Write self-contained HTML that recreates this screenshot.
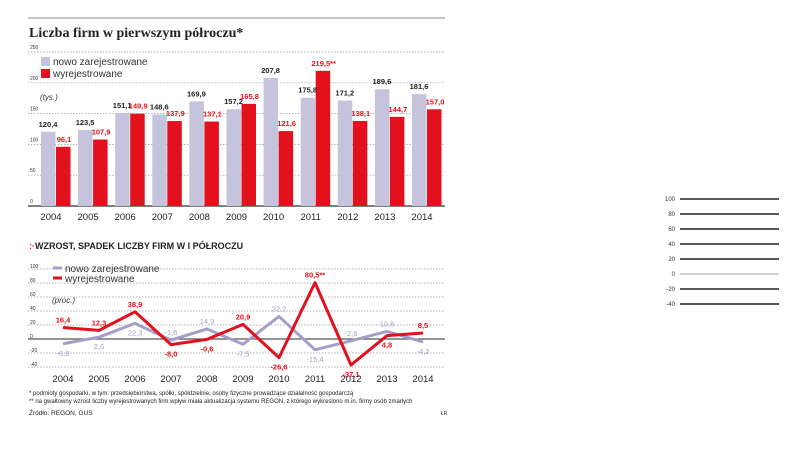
<!DOCTYPE html>
<html><head><meta charset="utf-8"><style>
body{margin:0;background:#fff;width:805px;height:455px;overflow:hidden;font-family:"Liberation Sans",sans-serif}
svg{position:absolute;left:0;top:0}
</style></head><body>
<svg id="c" width="805" height="455">
<line x1="28" y1="18" x2="445" y2="18" stroke="#888" stroke-width="1"/>
<text x="29" y="37" font-family="Liberation Serif" font-weight="bold" font-size="14" fill="#222">Liczba firm w pierwszym półroczu*</text>
<g id="topg"></g>
<rect x="41" y="57" width="9" height="9" fill="#c6c3dc"/>
<text x="53" y="65" font-size="10" fill="#333">nowo zarejestrowane</text>
<rect x="41" y="69" width="9" height="9" fill="#e3111d"/>
<text x="53" y="77" font-size="10" fill="#333">wyrejestrowane</text>
<text x="40" y="100" font-size="8" font-style="italic" fill="#333">(tys.)</text>
<text x="29" y="249" font-size="9" font-weight="bold" fill="#222"><tspan fill="#e3111d">:·</tspan>WZROST, SPADEK LICZBY FIRM W I PÓŁROCZU</text>
<g id="botg"></g>
<line x1="53" y1="268" x2="62" y2="268" stroke="#a49ec8" stroke-width="3"/>
<text x="65" y="272" font-size="10" fill="#333">nowo zarejestrowane</text>
<line x1="53" y1="278" x2="62" y2="278" stroke="#e3111d" stroke-width="3"/>
<text x="65" y="282" font-size="10" fill="#333">wyrejestrowane</text>
<text x="52" y="303" font-size="8" font-style="italic" fill="#333">(proc.)</text>
<text x="29" y="395" font-size="6" fill="#222">* podmioty gospodarki, w tym: przedsiębiorstwa, spółki, spółdzielnie, osoby fizyczne prowadzące działalność gospodarczą</text>
<text x="29" y="403" font-size="6" fill="#222">** na gwałtowny wzrost liczby wyrejestrowanych firm wpływ miała aktualizacja systemu REGON, z którego wykreślono m.in. firmy osób zmarłych</text>
<text x="29" y="415" font-size="6.5" fill="#222">Źródło: REGON, GUS</text>
<text x="441" y="415" font-size="5" fill="#222">ŁR</text>
<g id="minig"></g>
</svg>
<script>
const years=["2004","2005","2006","2007","2008","2009","2010","2011","2012","2013","2014"];
const newFirms=[120.4,123.5,151.1,148.6,169.9,157.2,207.8,175.8,171.2,189.6,181.6];
const removedFirms=[96.1,107.9,149.9,137.9,137.1,165.8,121.6,219.5,138.1,144.7,157.0];
const newLabels=["120,4","123,5","151,1","148,6","169,9","157,2","207,8","175,8","171,2","189,6","181,6"];
const removedLabels=["96,1","107,9","149,9","137,9","137,1","165,8","121,6","219,5**","138,1","144,7","157,0"];
const topTicks=[0,50,100,150,200,250];
const newChange=[-6.8,2.6,22.3,-1.6,14.3,-7.5,32.2,-15.4,-2.6,10.8,-4.2];
const removedChange=[16.4,12.3,38.9,-8.0,-0.6,20.9,-26.6,80.5,-37.1,4.8,8.5];
const newChangeLabels=["-6,8","2,6","22,3","-1,6","14,3","-7,5","32,2","-15,4","-2,6","10,8","-4,2"];
const removedChangeLabels=["16,4","12,3","38,9","-8,0","-0,6","20,9","-26,6","80,5**","-37,1","4,8","8,5"];
const botTicks=[100,80,60,40,20,0,-20,-40];
const miniTicks=[100,80,60,40,20,0,-20,-40];

const NS="http://www.w3.org/2000/svg";
function mk(p,t,a,txt){const e=document.createElementNS(NS,t);for(const k in a)e.setAttribute(k,a[k]);if(txt!==undefined)e.textContent=txt;p.appendChild(e);return e;}
const gTop=document.getElementById('topg'),gBot=document.getElementById('botg'),gMini=document.getElementById('minig');
const yT=v=>206-v*0.616;
const xT=i=>48+i*37.1;
topTicks.forEach(t=>{
 const l=mk(gTop,'line',{x1:28,x2:445,y1:yT(t),y2:yT(t),stroke:t===0?'#555':'#999','stroke-width':t===0?1.5:0.7,'stroke-dasharray':t===0?'':'1.5,1.5'});
 
 
 const tx=mk(gTop,'text',{x:30,y:yT(t)-3,'font-size':5,fill:'#333'},t);
 
 
});
years.forEach((y,i)=>{
 const x=xT(i);
 const b1=mk(gTop,'rect',{x:x-7,y:yT(newFirms[i]),width:14.5,height:206-yT(newFirms[i]),fill:'#c6c3dc'});
 
 
 const b2=mk(gTop,'rect',{x:x+8,y:yT(removedFirms[i]),width:14.5,height:206-yT(removedFirms[i]),fill:'#e3111d'});
 
 
 const t1=mk(gTop,'text',{x:x,y:yT(newFirms[i])-5,'font-size':7.5,'font-weight':'bold',fill:'#222','text-anchor':'middle'},newLabels[i]);
 
 
 const t2=mk(gTop,'text',{x:x+16,y:yT(removedFirms[i])-5,'font-size':7.5,'font-weight':'bold',fill:'#e3111d','text-anchor':'middle'},removedLabels[i]);
 
 
 const yl=mk(gTop,'text',{x:x+3,y:220,'font-size':9.5,fill:'#222','text-anchor':'middle'},y);
 
 
});
const yB=v=>339-v*0.7;
const xB=i=>63+i*36;
botTicks.forEach(t=>{
 const l=mk(gBot,'line',{x1:28,x2:445,y1:yB(t),y2:yB(t),stroke:t===0?'#555':'#999','stroke-width':t===0?1.2:0.7,'stroke-dasharray':t===0?'':'1.5,1.5'});
 
 
 const tx=mk(gBot,'text',{x:30,y:yB(t)-1,'font-size':5,fill:'#333'},t);
 
 
});
const pN=mk(gBot,'polyline',{points:newChange.map((v,i)=>xB(i)+','+yB(v)).join(' '),fill:'none',stroke:'#a49ec8','stroke-width':3,'stroke-linejoin':'round'});


const pR=mk(gBot,'polyline',{points:removedChange.map((v,i)=>xB(i)+','+yB(v)).join(' '),fill:'none',stroke:'#e3111d','stroke-width':3,'stroke-linejoin':'round'});


years.forEach((y,i)=>{
 const x=xB(i);
 const nAbove=newChange[i]>removedChange[i];
 const t1=mk(gBot,'text',{x:x,y:nAbove?yB(newChange[i])-5:yB(newChange[i])+12,'font-size':7.5,fill:'#a49ec8','text-anchor':'middle'},newChangeLabels[i]);
 
 
 const t2=mk(gBot,'text',{x:x,y:nAbove?yB(removedChange[i])+12:yB(removedChange[i])-5,'font-size':7.5,'font-weight':'bold',fill:'#e3111d','text-anchor':'middle'},removedChangeLabels[i]);
 
 
 const yl=mk(gBot,'text',{x:x,y:382,'font-size':9.5,fill:'#222','text-anchor':'middle'},y);
 
 
});
const yM=v=>274-v*0.75;
miniTicks.forEach(t=>{
 const l=mk(gMini,'line',{x1:680,x2:779,y1:yM(t),y2:yM(t),stroke:t===0?'#888':'#222','stroke-width':t===0?0.8:1.6});
 
 
 const tx=mk(gMini,'text',{x:675,y:yM(t)+2,'font-size':6,fill:'#333','text-anchor':'end'},t);
 
 
});
</script>
</body></html>
